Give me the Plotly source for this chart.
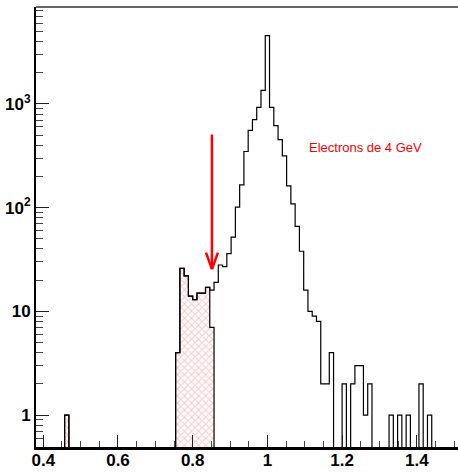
import numpy as np
import plotly.graph_objects as go

# histogram: 175 bins on [0, 2]; bins 40..125 shown
bin_w = 2.0 / 175
first_bin = 40

# all events, bins 40..125
counts = [1,
          0, 0, 0, 0, 0, 0, 0, 0, 0, 0, 0, 0, 0, 0, 0, 0, 0, 0, 0, 0, 0, 0, 0, 0, 0,
          4, 26, 22, 14, 13, 15, 15, 17, 16, 19,
          28, 27, 36, 52, 101, 166, 348, 556, 705, 927,
          1353, 4570, 927, 617, 452, 316, 162, 109, 66, 38,
          16, 10, 9, 8, 2, 2, 4, 0, 0, 2,
          0, 2, 3, 3, 1, 2, 0, 0, 0, 0,
          1, 0, 1, 0, 1, 0, 0, 2, 0, 1]

# rejected events (hatched), bins 40..74
cut_counts = [1,
              0, 0, 0, 0, 0, 0, 0, 0, 0, 0, 0, 0, 0, 0, 0, 0, 0, 0, 0, 0, 0, 0, 0, 0, 0,
              4, 26, 22, 14, 13, 15, 15, 17, 7]

x_ticks = [0.4, 0.6, 0.8, 1.0, 1.2, 1.4]
x_labels = ["0.4", "0.6", "0.8", "1", "1.2", "1.4"]
y_ticks = [1, 10, 100, 1000]
y_labels = ["1", "10", "10<sup>2</sup>", "10<sup>3</sup>"]

label_text = "Electrons de 4 GeV"
label_pos = (1.263, 378)
arrow_x = 0.8516
arrow_from = 525
arrow_to = 25.5

floor = 1e-2
font_fam = "Liberation Sans, Arial, sans-serif"


def step_xy(k0, vals):
    n = len(vals)
    edges = (k0 + np.arange(n + 1)) * bin_w
    v = np.array(vals, dtype=float)
    v[v <= 0] = floor
    xs = np.concatenate([[edges[0]], edges[:-1], [edges[-1]]])
    ys = np.concatenate([[floor], v, [floor]])
    return xs, ys


traces = []

centers = (first_bin + np.arange(len(cut_counts)) + 0.5) * bin_w
cc = np.array(cut_counts, dtype=float)
mask = cc > 0
traces.append(go.Bar(x=centers[mask], y=cc[mask], width=bin_w,
                     marker=dict(color="white", line=dict(width=0),
                                 pattern=dict(shape="x", fgcolor="rgba(255,40,40,0.55)",
                                              bgcolor="white", size=5, solidity=0.35)),
                     hoverinfo="skip"))

xs, ys = step_xy(first_bin, cut_counts)
traces.append(go.Scatter(x=xs, y=ys, mode="lines", line_shape="hv",
                         line=dict(color="black", width=1.2), hoverinfo="skip"))

xs, ys = step_xy(first_bin, counts)
traces.append(go.Scatter(x=xs, y=ys, mode="lines", line_shape="hv",
                         line=dict(color="black", width=1.2)))

minor_y = [m * 10.0 ** e for e in range(-1, 4) for m in range(2, 10)]

fig = go.Figure(data=traces)
fig.update_layout(
    width=458, height=472,
    margin=dict(l=36, r=0, t=7, b=25, autoexpand=False),
    plot_bgcolor="white", paper_bgcolor="white",
    showlegend=False, bargap=0,
    xaxis=dict(range=[0.3805, 1.5103], tickmode="array", tickvals=x_ticks, ticktext=x_labels,
               ticks="inside", ticklen=12, tickwidth=1, tickcolor="#222",
               showline=True, linewidth=2.5, linecolor="black",
               showgrid=False, zeroline=False, automargin=False,
               ticklabelstandoff=-4,
               tickfont=dict(family=font_fam, size=17, color="black", weight="bold"),
               minor=dict(dtick=0.05, tick0=0, ticks="inside", ticklen=6,
                          tickcolor="#444", tickwidth=1, showgrid=False)),
    yaxis=dict(type="log", range=[-0.308, 3.935], tickmode="array", tickvals=y_ticks,
               ticktext=y_labels, ticks="inside", ticklen=13, tickwidth=1, tickcolor="#222",
               showline=True, linewidth=2, linecolor="black",
               showgrid=False, zeroline=False, automargin=False,
               tickfont=dict(family=font_fam, size=17, color="black", weight="bold"),
               minor=dict(tickvals=minor_y, ticks="inside", ticklen=7,
                          tickcolor="#444", tickwidth=1, showgrid=False)),
    shapes=[dict(type="line", xref="paper", yref="paper", x0=0, x1=1, y0=1, y1=1,
                 line=dict(color="#333", width=1.5))],
    annotations=[
        dict(x=label_pos[0], y=np.log10(label_pos[1]), text=label_text, showarrow=False,
             xanchor="center", yanchor="middle",
             font=dict(family=font_fam, size=13, color="red")),
        dict(x=arrow_x, y=np.log10(arrow_to), ax=arrow_x, ay=np.log10(arrow_from),
             axref="x", ayref="y", text="", showarrow=True, arrowhead=0,
             arrowwidth=2.5, arrowcolor="red"),
        dict(x=arrow_x, y=np.log10(arrow_to), ax=-6.5, ay=-18, text="", showarrow=True,
             arrowhead=0, arrowwidth=2.5, arrowcolor="red"),
        dict(x=arrow_x, y=np.log10(arrow_to), ax=6.5, ay=-18, text="", showarrow=True,
             arrowhead=0, arrowwidth=2.5, arrowcolor="red"),
    ],
)

fig.write_html("out.html", config={"displayModeBar": False},
               post_script="document.body.style.margin='0';")
